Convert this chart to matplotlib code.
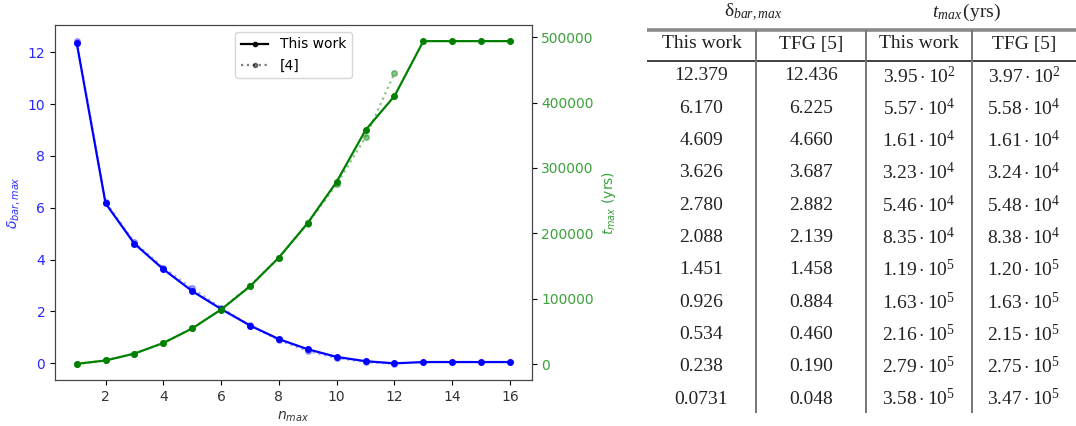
import numpy as np
import matplotlib
matplotlib.use("Agg")
import matplotlib.pyplot as plt
from matplotlib.lines import Line2D

# mathtext for the table uses a serif "custom" set, the chart keeps dejavusans
plt.rcParams['mathtext.rm'] = 'Liberation Serif'
plt.rcParams['mathtext.it'] = 'Liberation Serif:italic'
plt.rcParams['mathtext.bf'] = 'Liberation Serif:bold'

## data
n_max = np.arange(1, 17)
delta_this = [12.379, 6.170, 4.609, 3.626, 2.780, 2.088, 1.451, 0.926, 0.534,
              0.238, 0.0731, -0.01, 0.04, 0.04, 0.04, 0.04]
delta_ref = [12.436, 6.225, 4.660, 3.687, 2.882, 2.139, 1.458, 0.884, 0.460,
             0.190, 0.048, -0.03]
t_this = [395, 5570, 16100, 32300, 54600, 83500, 119000, 163000, 216000,
          279000, 358000, 410000, 494000, 494000, 494000, 494000]
t_ref = [397, 5580, 16100, 32400, 54800, 83800, 120000, 163000, 215000,
         275000, 347000, 445000]

## table text
col_heads = ['This work', 'TFG [5]', 'This work', 'TFG [5]']
tab_delta_this = ['12.379', '6.170', '4.609', '3.626', '2.780', '2.088',
                  '1.451', '0.926', '0.534', '0.238', '0.0731']
tab_delta_tfg = ['12.436', '6.225', '4.660', '3.687', '2.882', '2.139',
                 '1.458', '0.884', '0.460', '0.190', '0.048']
tab_t_this = [(3.95, 2), (5.57, 4), (1.61, 4), (3.23, 4), (5.46, 4), (8.35, 4),
              (1.19, 5), (1.63, 5), (2.16, 5), (2.79, 5), (3.58, 5)]
tab_t_tfg = [(3.97, 2), (5.58, 4), (1.61, 4), (3.24, 4), (5.48, 4), (8.38, 4),
             (1.20, 5), (1.63, 5), (2.15, 5), (2.75, 5), (3.47, 5)]

W, H = 1076, 426
fig = plt.figure(figsize=(W / 100, H / 100), dpi=100)

## left: chart with twin y axes
ax1 = fig.add_axes([55 / W, 46 / H, 476.7 / W, 355 / H])
ax1.plot(n_max, delta_this, color='blue', marker='o', ms=4, lw=1.6)
ax1.plot(n_max[:len(delta_ref)], delta_ref, color='blue', ls=':', marker='o',
         ms=4, lw=1.6, alpha=0.35)
ax1.set_xlabel(r'$n_{max}$', fontsize=10, color='#333333')
ax1.set_ylabel(r'$\delta_{bar,max}$', fontsize=10, color='#3030ff')
ax1.tick_params(axis='y', labelcolor='#2828ff', labelsize=10)
ax1.tick_params(axis='x', labelsize=10, labelcolor='#333333')
ax1.set_xticks([2, 4, 6, 8, 10, 12, 14, 16])
ax1.set_yticks([0, 2, 4, 6, 8, 10, 12])

ax2 = ax1.twinx()
ax2.plot(n_max, t_this, color='green', marker='o', ms=4, lw=1.6)
ax2.plot(n_max[:len(t_ref)], t_ref, color='green', ls=':', marker='o',
         ms=4, lw=1.6, alpha=0.45)
ax2.set_ylabel(r'$t_{max}$ (yrs)', fontsize=10, color='#3ca03c')
ax2.tick_params(axis='y', labelcolor='#3ca03c', labelsize=10)
ax2.set_yticks([0, 100000, 200000, 300000, 400000, 500000])

for ax in (ax1, ax2):
    for sp in ax.spines.values():
        sp.set_color('#444444')

handles = [Line2D([], [], color='black', marker='o', ms=3, lw=1.6),
           Line2D([], [], color='black', ls=':', marker='o', ms=3, lw=1.6, alpha=0.5)]
ax2.legend(handles, ['This work', '[4]'], loc='upper center', fontsize=10)

## right: table, drawn in pixel units of its own axes
axt = fig.add_axes([640 / W, 0, 436 / W, 1])
axt.set_xlim(640, 1076)
axt.set_ylim(426, 0)
axt.axis('off')

col_edges = [647, 756, 866, 972, 1076]
col_mid = [(a + b) / 2 for a, b in zip(col_edges[:-1], col_edges[1:])]
row_y = [76 + 32.3 * k for k in range(len(tab_delta_this))]
tc = '#222222'
fs = 14
serif = 'Liberation Serif'

axt.text((col_mid[0] + col_mid[1]) / 2 - 3, 12, 'δ$_{bar,max}$', ha='center',
         va='center', fontsize=fs, family=serif, color=tc,
         math_fontfamily='custom')
axt.text((col_mid[2] + col_mid[3]) / 2 - 5, 12, '$t_{max}\\,$(yrs)', ha='center',
         va='center', fontsize=fs, family=serif, color=tc,
         math_fontfamily='custom')

axt.plot([col_edges[0], col_edges[-1]], [30, 30], color='#8a8a8a', lw=2.6,
         solid_capstyle='butt')
axt.plot([col_edges[0], col_edges[-1]], [61, 61], color='#333333', lw=1.3,
         solid_capstyle='butt')
for x in col_edges[1:-1]:
    axt.plot([x, x], [30, 413], color='#777777', lw=1.4, solid_capstyle='butt')

for xm, head in zip(col_mid, col_heads):
    axt.text(xm, 44, head, ha='center', va='center', fontsize=fs,
             family=serif, color=tc)

def sci(pair):
    return r'$%.2f\cdot10^{%d}$' % pair

for i, y in enumerate(row_y):
    cells = [tab_delta_this[i], tab_delta_tfg[i], sci(tab_t_this[i]), sci(tab_t_tfg[i])]
    for xm, s in zip(col_mid, cells):
        axt.text(xm, y, s, ha='center', va='center', fontsize=fs,
                 family=serif, color=tc, math_fontfamily='custom')

fig.savefig('out.png', dpi=100)
